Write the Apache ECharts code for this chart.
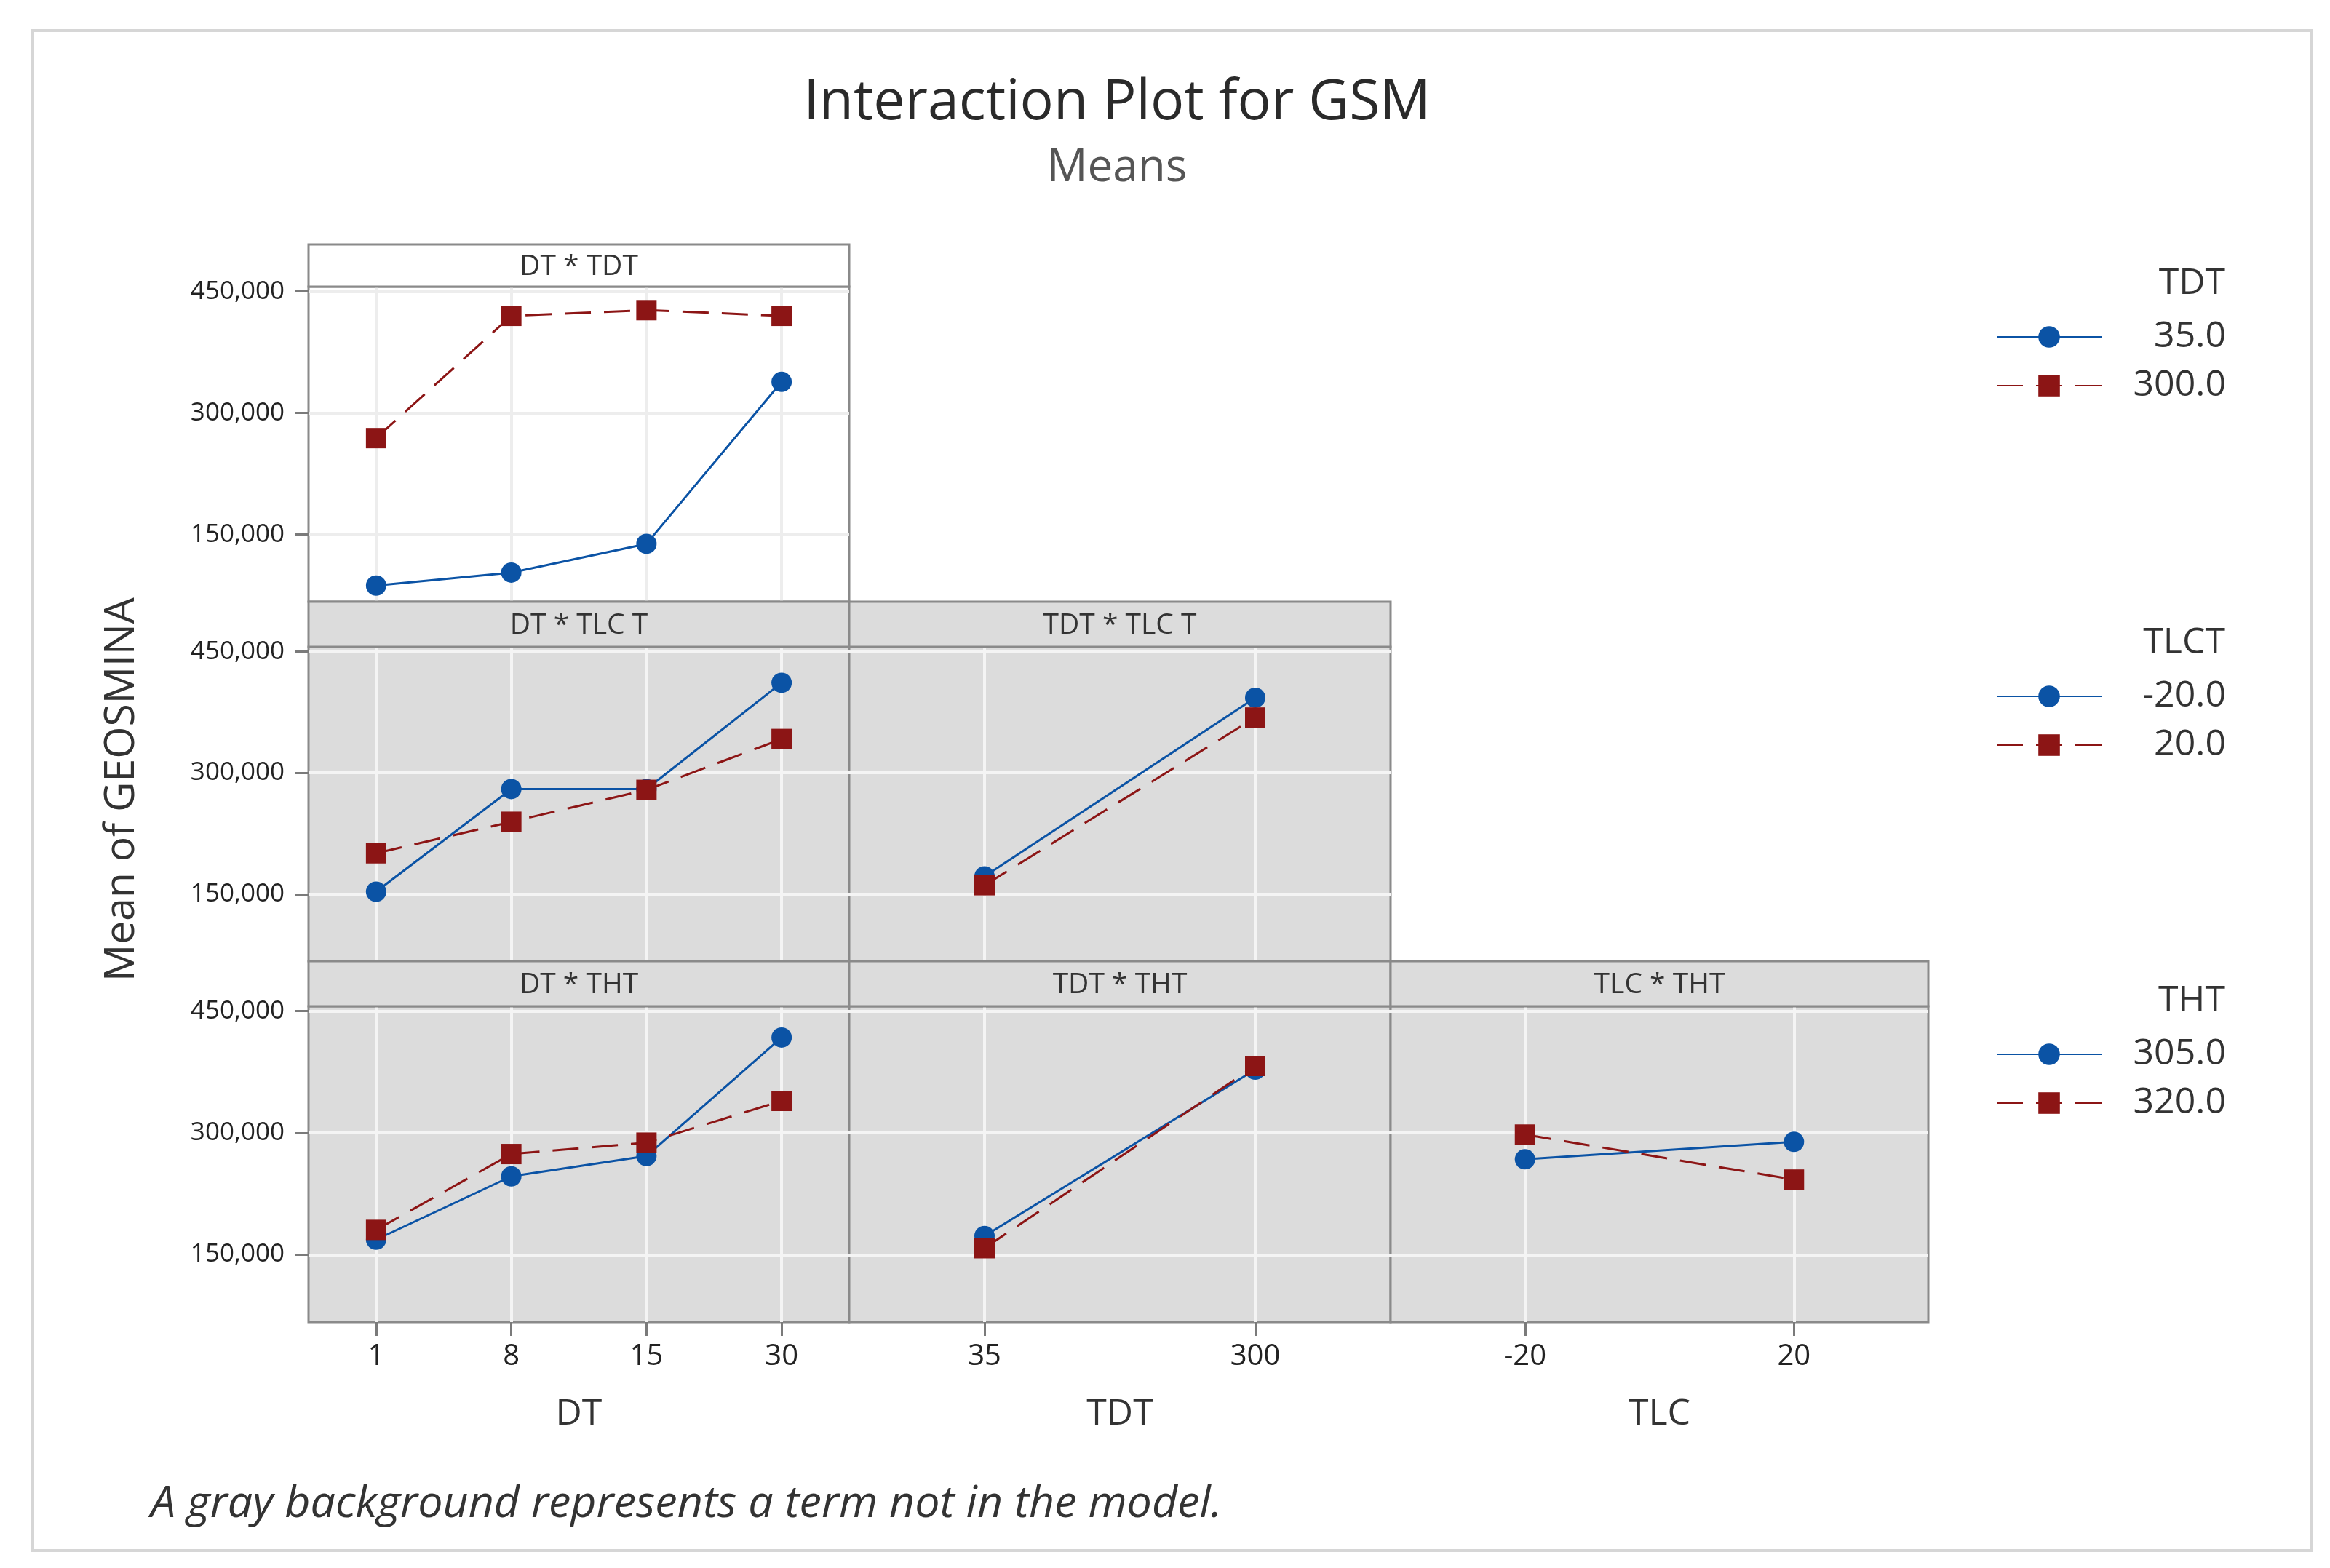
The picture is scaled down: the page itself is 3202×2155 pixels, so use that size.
<!DOCTYPE html>
<html>
<head>
<meta charset="utf-8">
<title>Interaction Plot for GSM</title>
<script src="https://cdn.jsdelivr.net/npm/echarts@6.0.0/dist/echarts.min.js"></script>
<style>
html,body{margin:0;padding:0;background:#fff;}
#main{width:3202px;height:2155px;}
</style>
</head>
<body>
<div id="main"></div>
<script>
//因子水平
var dt_levels=['1','8','15','30'];
var tdt_levels=['35','300'];
var tlc_levels=['-20','20'];
var y_ticks=[150000,300000,450000];

//DT * TDT
var dt_tdt_35=[87000,103000,138500,338500];
var dt_tdt_300=[269000,420000,427000,420000];
//DT * TLC T
var dt_tlc_m20=[153000,280000,280000,411500];
var dt_tlc_20=[200500,239500,279000,342000];
//TDT * TLC T
var tdt_tlc_m20=[172000,393000];
var tdt_tlc_20=[161000,368500];
//DT * THT
var dt_tht_305=[168500,246500,271500,417500];
var dt_tht_320=[180500,274000,288000,339500];
//TDT * THT
var tdt_tht_305=[173000,378000];
var tdt_tht_320=[158000,382500];
//TLC * THT
var tlc_tht_305=[267500,289000];
var tlc_tht_320=[298000,242500];

var FONT="'Open Sans', 'Noto Sans', sans-serif";
var BLUE='#0b53a5';
var RED='#8c1515';
var GRAY_BG='#dcdcdc';
var BORDER='#8a8a8a';

var col_x=[424,1167,1911,2650];
var row_y=[[336,394,827],[827,889,1321],[1321,1383,1817]];

//每个小图的配置
var panels=[
	{title:'DT * TDT',row:0,col:0,levels:dt_levels,gray:false,names:['35.0','300.0'],data:[dt_tdt_35,dt_tdt_300]},
	{title:'DT * TLC T',row:1,col:0,levels:dt_levels,gray:true,names:['-20.0','20.0'],data:[dt_tlc_m20,dt_tlc_20]},
	{title:'TDT * TLC T',row:1,col:1,levels:tdt_levels,gray:true,names:['-20.0','20.0'],data:[tdt_tlc_m20,tdt_tlc_20]},
	{title:'DT * THT',row:2,col:0,levels:dt_levels,gray:true,names:['305.0','320.0'],data:[dt_tht_305,dt_tht_320],xname:'DT'},
	{title:'TDT * THT',row:2,col:1,levels:tdt_levels,gray:true,names:['305.0','320.0'],data:[tdt_tht_305,tdt_tht_320],xname:'TDT'},
	{title:'TLC * THT',row:2,col:2,levels:tlc_levels,gray:true,names:['305.0','320.0'],data:[tlc_tht_305,tlc_tht_320],xname:'TLC'}
];

function fmt(v){
	return String(v).replace(/\B(?=(\d{3})+(?!\d))/g,',');
}

function drawImg(){
	var grids=[],xAxes=[],yAxes=[],series=[],graphics=[];

	//外框
	graphics.push({type:'rect',shape:{x:45,y:42,width:3132,height:2089},
		style:{fill:'none',stroke:'#d6d6d6',lineWidth:4},z:0});

	for(var i=0;i<panels.length;i++){
		var p=panels[i];
		var r=row_y[p.row];
		var left=col_x[p.col],right=col_x[p.col+1];
		var bottomRow=(p.row==2);
		var firstCol=(p.col==0);
		var lineColor=p.gray?'#f4f4f4':'#ededed';

		grids.push({
			left:left,top:r[1],width:right-left,height:r[2]-r[1],
			show:true,backgroundColor:p.gray?GRAY_BG:'#ffffff',
			borderColor:BORDER,borderWidth:3,outerBoundsMode:'none'
		});
		xAxes.push({
			gridIndex:i,type:'category',data:p.levels,boundaryGap:true,
			axisLine:{show:false},
			axisTick:{show:bottomRow,alignWithLabel:true,interval:0,length:19,lineStyle:{color:'#7a7a7a',width:3}},
			axisLabel:{show:bottomRow,interval:0,margin:28,fontSize:40,color:'#222',fontFamily:FONT},
			splitLine:{show:true,alignWithLabel:true,interval:0,lineStyle:{color:lineColor,width:4}},
			name:p.xname||'',nameLocation:'middle',nameGap:102,
			nameTextStyle:{fontSize:50,color:'#333',fontFamily:FONT}
		});
		yAxes.push({
			gridIndex:i,type:'value',min:67000,max:456000,
			axisLine:{show:false},
			axisTick:{show:firstCol,customValues:y_ticks,length:19,lineStyle:{color:'#7a7a7a',width:3}},
			axisLabel:{show:firstCol,customValues:y_ticks,margin:33,fontSize:35,color:'#222',fontFamily:FONT,formatter:fmt},
			splitLine:{show:true,customValues:y_ticks,lineStyle:{color:lineColor,width:4}}
		});
		for(var k=0;k<2;k++){
			series.push({
				type:'line',name:p.names[k],xAxisIndex:i,yAxisIndex:i,
				data:p.data[k],
				symbol:k==0?'circle':'rect',symbolSize:28,
				lineStyle:{color:k==0?BLUE:RED,width:3,type:k==0?'solid':[36,18]},
				itemStyle:{color:k==0?BLUE:RED},
				z:3+k,animation:false
			});
		}
		//标题条
		graphics.push({type:'rect',shape:{x:left,y:r[0],width:right-left,height:r[1]-r[0]},
			style:{fill:p.gray?GRAY_BG:'#ffffff',stroke:BORDER,lineWidth:3},z:10});
		graphics.push({type:'text',x:(left+right)/2,y:(r[0]+r[1])/2+2,z:11,
			style:{text:p.title,fontSize:39,fontFamily:FONT,fill:'#333',textAlign:'center',textVerticalAlign:'middle'}});
	}

	//标题
	graphics.push({type:'text',x:1535,y:142,style:{text:'Interaction Plot for GSM',fontSize:77,fontWeight:500,fontFamily:FONT,fill:'#2a2a2a',textAlign:'center',textVerticalAlign:'middle'}});
	graphics.push({type:'text',x:1535,y:231,style:{text:'Means',fontSize:62,fontFamily:FONT,fill:'#555',textAlign:'center',textVerticalAlign:'middle'}});
	//纵轴名称
	graphics.push({type:'text',x:168,y:1085,rotation:Math.PI/2,style:{text:'Mean of GEOSMINA',fontSize:57,fontFamily:FONT,fill:'#333',textAlign:'center',textVerticalAlign:'middle'}});
	//说明
	graphics.push({type:'text',x:207,y:2068,style:{text:'A gray background represents a term not in the model.',fontSize:61,fontStyle:'italic',fontFamily:FONT,fill:'#333',textAlign:'left',textVerticalAlign:'middle'}});

	//图例
	var legendDefs=[['TDT',390,['35.0','300.0']],['TLCT',884,['-20.0','20.0']],['THT',1376,['305.0','320.0']]];
	var legends=[];
	for(var j=0;j<legendDefs.length;j++){
		var d=legendDefs[j];
		graphics.push({type:'text',x:3058,y:d[1],style:{text:d[0],fontSize:50,fontFamily:FONT,fill:'#333',textAlign:'right',textVerticalAlign:'middle'}});
		legends.push({
			orient:'vertical',left:2743,top:d[1]+48,padding:0,
			itemWidth:144,itemHeight:37,itemGap:17,selectedMode:false,
			data:d[2],
			formatter:'{v|{name}}',
			textStyle:{rich:{v:{width:166,align:'right',fontSize:50,fontFamily:FONT,color:'#333'}}}
		});
	}

	var option={
		animation:false,
		backgroundColor:'#ffffff',
		grid:grids,
		xAxis:xAxes,
		yAxis:yAxes,
		legend:legends,
		series:series,
		graphic:{elements:graphics}
	};
	var myChart=echarts.init(document.getElementById('main'));
	myChart.setOption(option);
}

drawImg();
</script>
</body>
</html>
